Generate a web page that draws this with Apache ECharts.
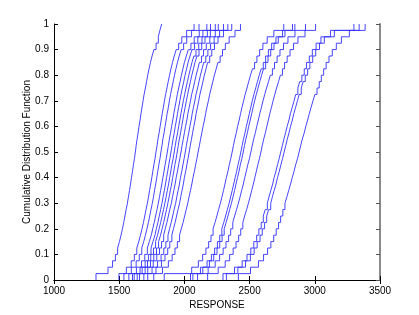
<!DOCTYPE html>
<html>
<head>
<meta charset="utf-8">
<script src="https://cdn.jsdelivr.net/npm/echarts@6/dist/echarts.min.js"></script>
<style>
  html, body { margin: 0; padding: 0; background: #fff; }
  #cdf { width: 419px; height: 315px; }
</style>
</head>
<body>
<div id="cdf"></div>
<script>
// sorted responses of each run (40 per run)
var runA = [1322,1414,1449,1471,1488,1502,1514,1525,1535,1544,1553,1563,1571,1579,1587,1594,1602,1609,1617,1624,1630,1637,1645,1652,1660,1667,1675,1683,1691,1701,1710,1719,1729,1740,1752,1766,1783,1800,1812,1826]
var runB = [1498,1555,1592,1616,1635,1650,1663,1675,1686,1696,1706,1716,1725,1733,1742,1750,1758,1766,1775,1782,1790,1797,1806,1814,1822,1830,1839,1847,1856,1866,1876,1886,1897,1909,1922,1937,1956,1980,2017,2074]
var runC = [1536,1593,1630,1654,1673,1688,1701,1713,1724,1734,1744,1754,1763,1771,1780,1788,1796,1804,1813,1820,1828,1835,1844,1852,1860,1868,1877,1885,1894,1904,1914,1924,1935,1947,1960,1975,1994,2018,2055,2112]
var runD = [1574,1632,1671,1696,1716,1731,1746,1757,1769,1779,1790,1800,1809,1818,1827,1835,1844,1852,1861,1869,1877,1885,1894,1902,1911,1919,1928,1937,1946,1956,1967,1977,1989,2000,2015,2030,2050,2075,2114,2172]
var runE = [1602,1660,1699,1724,1744,1759,1774,1785,1797,1807,1818,1828,1837,1846,1855,1863,1872,1880,1889,1897,1905,1913,1922,1930,1939,1947,1956,1965,1974,1984,1995,2005,2017,2028,2043,2058,2078,2103,2142,2200]
var runF = [1615,1676,1717,1742,1763,1779,1794,1806,1818,1829,1840,1850,1860,1869,1879,1887,1896,1904,1914,1922,1930,1938,1948,1956,1965,1973,1983,1992,2002,2012,2023,2034,2046,2058,2073,2089,2110,2135,2176,2237]
var runG = [1638,1699,1740,1765,1786,1802,1817,1829,1841,1852,1863,1873,1883,1892,1902,1910,1919,1927,1937,1945,1953,1961,1971,1979,1988,1996,2006,2015,2025,2035,2046,2057,2069,2081,2096,2112,2133,2158,2199,2260]
var runH = [1656,1719,1761,1788,1809,1825,1841,1853,1866,1877,1888,1900,1909,1919,1929,1937,1947,1956,1965,1974,1982,1991,2000,2009,2019,2027,2037,2047,2056,2068,2079,2090,2103,2115,2131,2147,2168,2195,2237,2300]
var runI = [1689,1752,1794,1821,1842,1858,1874,1886,1899,1910,1921,1933,1942,1952,1962,1970,1980,1989,1998,2007,2015,2024,2033,2042,2052,2060,2070,2080,2089,2101,2112,2123,2136,2148,2164,2180,2201,2228,2270,2333]
var runJ = [1719,1782,1824,1851,1872,1888,1904,1916,1929,1940,1951,1963,1972,1982,1992,2000,2010,2019,2028,2037,2045,2054,2063,2072,2082,2090,2100,2110,2119,2131,2142,2153,2166,2178,2194,2210,2231,2258,2300,2363]
var runK = [1765,1832,1877,1906,1928,1946,1963,1976,1990,2002,2014,2026,2036,2047,2057,2066,2077,2086,2096,2105,2115,2124,2134,2143,2154,2163,2173,2184,2194,2206,2218,2230,2244,2257,2274,2292,2314,2343,2388,2430]
var runL = [1845,2056,2107,2140,2165,2186,2204,2220,2235,2249,2262,2276,2288,2300,2311,2322,2334,2344,2356,2366,2376,2386,2398,2408,2420,2431,2442,2454,2466,2480,2493,2507,2522,2538,2556,2577,2602,2635,2686,2762]
var runM = [2047,2123,2174,2207,2232,2253,2271,2287,2302,2316,2329,2343,2355,2367,2378,2389,2401,2411,2423,2433,2443,2453,2465,2475,2487,2498,2509,2521,2533,2547,2560,2574,2589,2605,2623,2644,2669,2702,2753,2829]
var runN = [2065,2141,2192,2225,2250,2271,2289,2305,2320,2334,2347,2361,2373,2385,2396,2407,2419,2429,2441,2451,2461,2471,2483,2493,2505,2516,2527,2539,2551,2565,2578,2592,2607,2623,2641,2662,2687,2720,2771,2847]
var runO = [2101,2182,2236,2270,2297,2319,2339,2355,2371,2385,2400,2414,2427,2439,2452,2463,2475,2486,2499,2510,2520,2531,2544,2555,2567,2578,2591,2603,2616,2630,2645,2659,2675,2691,2711,2733,2760,2794,2848,2929]
var runP = [2178,2259,2313,2347,2374,2396,2416,2432,2448,2462,2477,2491,2504,2516,2529,2540,2552,2563,2576,2587,2597,2608,2621,2632,2644,2655,2668,2680,2693,2707,2722,2736,2752,2768,2788,2810,2837,2871,2925,3006]
var runQ = [2296,2384,2443,2480,2509,2532,2554,2571,2589,2605,2620,2636,2649,2663,2677,2688,2702,2714,2727,2739,2751,2763,2776,2788,2802,2813,2827,2841,2854,2870,2885,2901,2919,2936,2958,2981,3010,3047,3120,3300]
var runR = [2322,2410,2469,2506,2535,2558,2580,2597,2615,2631,2646,2662,2675,2689,2703,2714,2728,2740,2753,2765,2777,2789,2802,2814,2828,2839,2853,2867,2880,2896,2911,2927,2945,2962,2984,3007,3036,3073,3150,3340]
var runS = [2414,2507,2568,2607,2638,2663,2685,2704,2722,2738,2755,2771,2786,2800,2814,2827,2841,2853,2868,2880,2892,2904,2919,2931,2945,2958,2972,2986,3001,3017,3034,3050,3068,3087,3109,3134,3165,3204,3265,3386]

var runs = [runA, runB, runC, runD, runE, runF, runG, runH, runI, runJ, runK,
  runL, runM, runN, runO, runP, runQ, runR, runS]

var xTicks = [1000, 3500, 500]
var yTicks = [0, 1, 0.1]

function stairs (s) {
  let n = s.length
  let pts = [[s[0], 0]]
  s.forEach(function (v, i) {
    pts.push([v, (i + 1) / n])
  })
  return pts
}

let myChart = echarts.init(document.getElementById('cdf'))
let font = 'Helvetica, "Liberation Sans", Arial, sans-serif'
let tickIn = { show: true, inside: true, length: 4, lineStyle: { color: '#000' } }
let lineBlack = { show: true, lineStyle: { color: '#000', width: 1 } }

myChart.setOption({
  animation: false,
  backgroundColor: '#fff',
  grid: { left: 54, right: 39, top: 24, bottom: 35 },
  xAxis: [
    {
      type: 'value',
      min: xTicks[0],
      max: xTicks[1],
      interval: xTicks[2],
      name: 'RESPONSE',
      nameLocation: 'middle',
      nameGap: 20,
      nameMoveOverlap: false,
      nameTextStyle: { color: '#000', fontSize: 10, fontFamily: font },
      axisLine: lineBlack,
      axisTick: tickIn,
      axisLabel: {
        color: '#000',
        fontSize: 10,
        fontFamily: font,
        margin: 6,
        formatter: function (v) { return String(v) }
      },
      splitLine: { show: false }
    },
    {
      type: 'value',
      position: 'top',
      min: xTicks[0],
      max: xTicks[1],
      interval: xTicks[2],
      axisLine: lineBlack,
      axisTick: tickIn,
      axisLabel: { show: false },
      splitLine: { show: false }
    }
  ],
  yAxis: [
    {
      type: 'value',
      min: yTicks[0],
      max: yTicks[1],
      interval: yTicks[2],
      name: 'Cumulative Distribution Function',
      nameLocation: 'middle',
      nameGap: 22,
      nameMoveOverlap: false,
      nameTextStyle: { color: '#000', fontSize: 10, fontFamily: font },
      axisLine: lineBlack,
      axisTick: tickIn,
      axisLabel: {
        color: '#000',
        fontSize: 10,
        fontFamily: font,
        margin: 5,
        formatter: function (v) { return String(Math.round(v * 10) / 10) }
      },
      splitLine: { show: false }
    },
    {
      type: 'value',
      position: 'right',
      min: yTicks[0],
      max: yTicks[1],
      interval: yTicks[2],
      axisLine: { show: true, lineStyle: { color: '#8a8a8a', width: 2 } },
      axisTick: { show: true, inside: true, length: 4, lineStyle: { color: '#555' } },
      axisLabel: { show: false },
      splitLine: { show: false }
    }
  ],
  series: runs.map(function (s) {
    return {
      type: 'line',
      step: 'end',
      showSymbol: false,
      silent: true,
      data: stairs(s),
      lineStyle: { color: '#3030ff', width: 0.9 }
    }
  })
})
</script>
</body>
</html>
